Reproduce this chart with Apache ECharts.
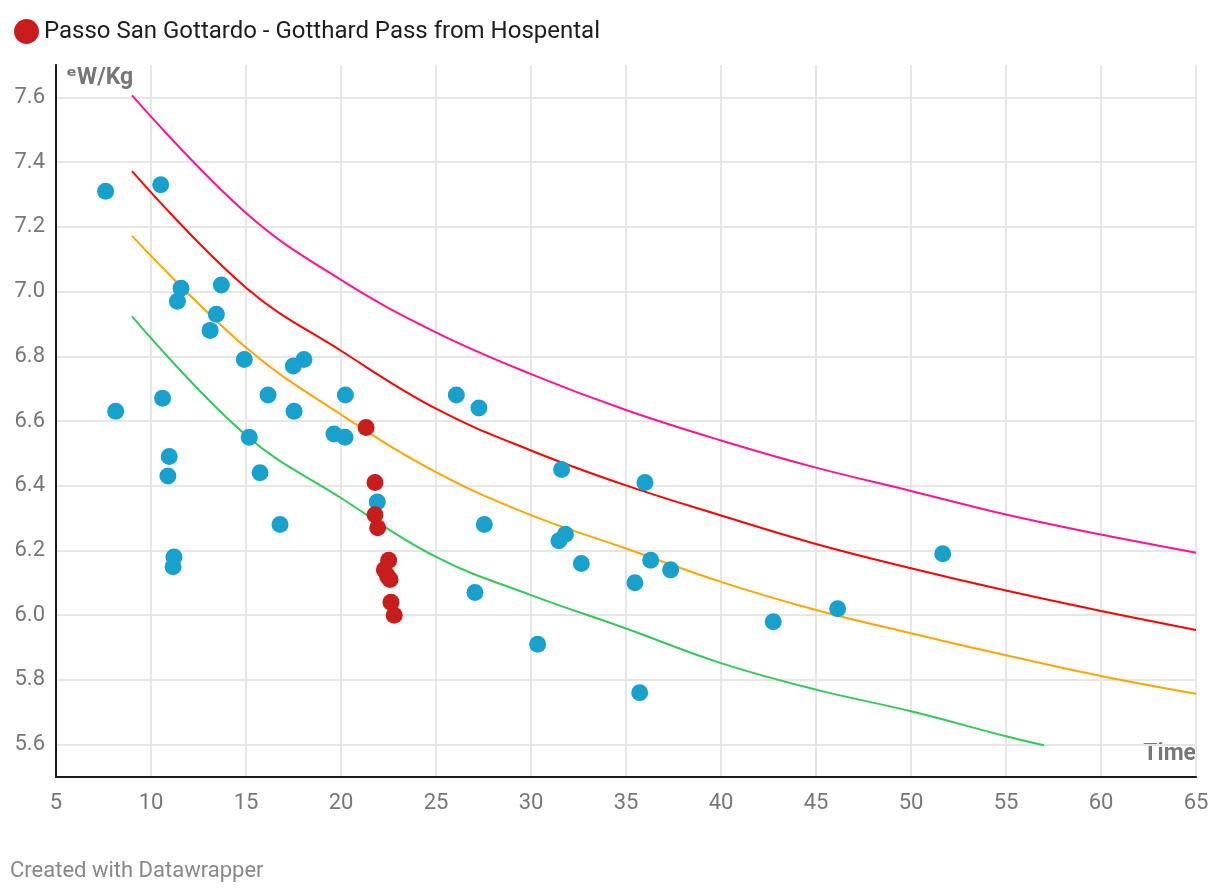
<!DOCTYPE html>
<html>
<head>
<meta charset="utf-8">
<script src="https://cdn.jsdelivr.net/npm/echarts@6/dist/echarts.min.js"></script>
<style>
html,body{margin:0;padding:0;background:#fff;}
#c{width:1220px;height:896px;}
</style>
</head>
<body>
<div id="c"></div>
<script>
// ---- data ----
var climbName = 'Passo San Gottardo - Gotthard Pass from Hospental';
var blueX = [7.61,10.51,8.14,10.61,10.96,10.89,11.21,11.16,11.58,11.39,13.70,13.44,13.11,14.91,15.17,15.74,16.16,17.49,18.05,17.53,16.79,19.63,20.21,20.23,21.91,26.07,27.26,27.54,27.05,30.35,31.61,31.81,31.47,32.65,36.0,36.3,37.35,35.47,35.72,42.75,46.14,51.67];
var blueY = [7.31,7.33,6.63,6.67,6.49,6.43,6.18,6.15,7.01,6.97,7.02,6.93,6.88,6.79,6.55,6.44,6.68,6.77,6.79,6.63,6.28,6.56,6.55,6.68,6.35,6.68,6.64,6.28,6.07,5.91,6.45,6.25,6.23,6.16,6.41,6.17,6.14,6.10,5.76,5.98,6.02,6.19];
var redX = [21.32,21.79,21.79,21.93,22.51,22.28,22.45,22.58,22.63,22.80];
var redY = [6.58,6.41,6.31,6.27,6.17,6.14,6.12,6.11,6.04,6.00];

var pinkX = [9,15,20,25,30,35,40,45,50,55,60,65];
var pinkY = [7.606,7.243,7.036,6.874,6.745,6.634,6.540,6.456,6.384,6.311,6.249,6.193];
var redLineX = [9,15,20,25,30,35,40,45,50,55,60,65];
var redLineY = [7.372,7.012,6.817,6.638,6.509,6.401,6.308,6.220,6.145,6.076,6.013,5.954];
var orangeX = [9,15,20,25,30,35,40,45,50,55,60,65];
var orangeY = [7.172,6.827,6.620,6.442,6.309,6.206,6.103,6.016,5.944,5.876,5.812,5.757];
var greenX = [9,15,20,25,30,35,40,45,50,55,57];
var greenY = [6.923,6.556,6.362,6.180,6.062,5.959,5.852,5.770,5.703,5.626,5.598];

var yTicks = [5.6,5.8,6.0,6.2,6.4,6.6,6.8,7.0,7.2,7.4,7.6];

function pairs(xs, ys){ return xs.map(function(x,i){ return [x, ys[i]]; }); }
function lineSeries(xs, ys, color){
  return {type:'line', data:pairs(xs,ys), showSymbol:false, symbol:'none', smooth:0.4,
    lineStyle:{color:color,width:2}, silent:true, z:2, legendHoverLink:false};
}

var chart = echarts.init(document.getElementById('c'), null, {renderer:'canvas'});
chart.setOption({
  animation:false,
  textStyle:{fontFamily:'Roboto'},
  legend:{
    data:[{name:climbName, icon:'circle'}],
    left:9, top:14, itemWidth:25, itemHeight:25, itemGap:8,
    textStyle:{fontSize:24, color:'#1d1d1d', fontFamily:'Roboto'},
    selectedMode:false
  },
  grid:{left:56, right:24, top:65, bottom:119, containLabel:false},
  xAxis:{
    type:'value', min:5, max:65, interval:5,
    axisLine:{show:true, onZero:false, lineStyle:{color:'#1a1a1a', width:2}},
    axisTick:{show:false},
    axisLabel:{color:'#777', fontSize:22, margin:15, fontFamily:'Roboto'},
    splitLine:{show:true, lineStyle:{color:'#e6e6e6', width:2}}
  },
  yAxis:{
    type:'value', min:5.5, max:7.7,
    axisLine:{show:true, onZero:false, lineStyle:{color:'#1a1a1a', width:2}},
    axisTick:{show:false, customValues:yTicks},
    axisLabel:{color:'#777', fontSize:22, margin:11, fontFamily:'Roboto', customValues:yTicks,
      formatter:function(v){ return v.toFixed(1); }},
    splitLine:{show:true, lineStyle:{color:'#e6e6e6', width:2}}
  },
  graphic:[
    {type:'text', left:66, top:67, style:{text:'\u1D49W/Kg', font:'bold 23px Roboto, DejaVu Sans', fill:'#777'}},
    {type:'text', right:24, top:743, style:{text:'Time', font:'bold 23px Roboto', fill:'#777'}},
    {type:'text', left:10, top:860, style:{text:'Created with Datawrapper', font:'22px Roboto', fill:'#888'}}
  ],
  series:[
    lineSeries(pinkX, pinkY, '#ff1493'),
    lineSeries(redLineX, redLineY, '#ff0000'),
    lineSeries(orangeX, orangeY, '#ffa500'),
    lineSeries(greenX, greenY, '#34c759'),
    {type:'scatter', name:'others', data:pairs(blueX, blueY), symbolSize:17,
      itemStyle:{color:'#18a1cd', opacity:1}, z:3},
    {type:'scatter', name:climbName, data:pairs(redX, redY), symbolSize:17,
      itemStyle:{color:'#c71e1d', opacity:1}, z:4}
  ]
});
</script>
</body>
</html>
